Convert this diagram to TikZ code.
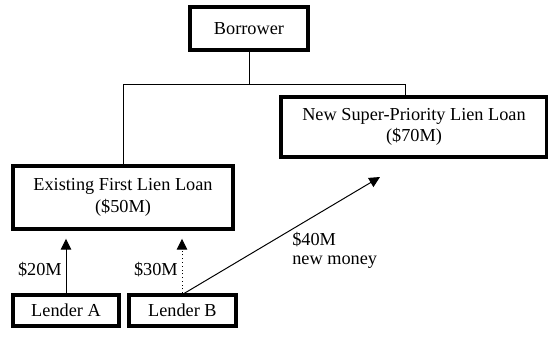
\documentclass[tikz,border=0pt]{standalone}
\usepackage{fontspec}
\setmainfont{Liberation Serif}
\usepackage{tikz}
\usetikzlibrary{positioning,arrows.meta}

\begin{document}
\begin{tikzpicture}[
    font=\fontsize{13}{15}\selectfont,
    box/.style={rectangle, draw, line width=2.6pt, align=center, inner sep=0pt},
    link/.style={line width=0.7pt},
    arrow/.style={line width=0.7pt, -{Triangle[length=0.27cm, width=0.26cm]}},
    tag/.style={inner sep=0pt, align=left}
]
    \useasboundingbox (0,0) rectangle (13.7,8.425);

    \node[box, minimum width=2.95cm, minimum height=1.075cm] (B) at (6.225, 7.71) {Borrower};
    \node[box, minimum width=6.65cm, minimum height=1.5cm] (N) at (10.35, 5.25) {New Super-Priority Lien Loan\\(\$70M)};
    \node[box, minimum width=5.5cm, minimum height=1.575cm] (E) at (3.075, 3.49) {Existing First Lien Loan\\(\$50M)};
    \node[box, minimum width=2.65cm, minimum height=0.775cm] (LA) at (1.65, 0.66) {Lender A};
    \node[box, minimum width=2.675cm, minimum height=0.775cm] (LB) at (4.56, 0.66) {Lender B};

    \coordinate (J) at (6.225, 6.325);
    \coordinate (NJ) at (10.125, 6.0);
    \coordinate (NM) at (9.5, 4.0);

    \draw[link] (B) -- (J);
    \draw[link] (J) -| (E);
    \draw[link] (J) -| (NJ);

    \draw[arrow, shorten >=0.2cm] (LA) -- (LA |- E.south);
    \draw[arrow, dotted, shorten >=0.2cm] (LB.north -| 4.55,0) -- (4.55,0 |- E.south);
    \draw[arrow] ([xshift=0.05cm]LB.north) -- (NM);

    \node[tag, anchor=east] (A20) at (1.55, 1.675) {\$20M};
    \node[tag, anchor=east] (A30) at (4.45, 1.675) {\$30M};
    \node[tag, anchor=west] (A40) at (7.3, 2.425) {\$40M};
    \node[tag, anchor=west] (NMt) at (7.3, 1.875) {new money};
\end{tikzpicture}
\end{document}
